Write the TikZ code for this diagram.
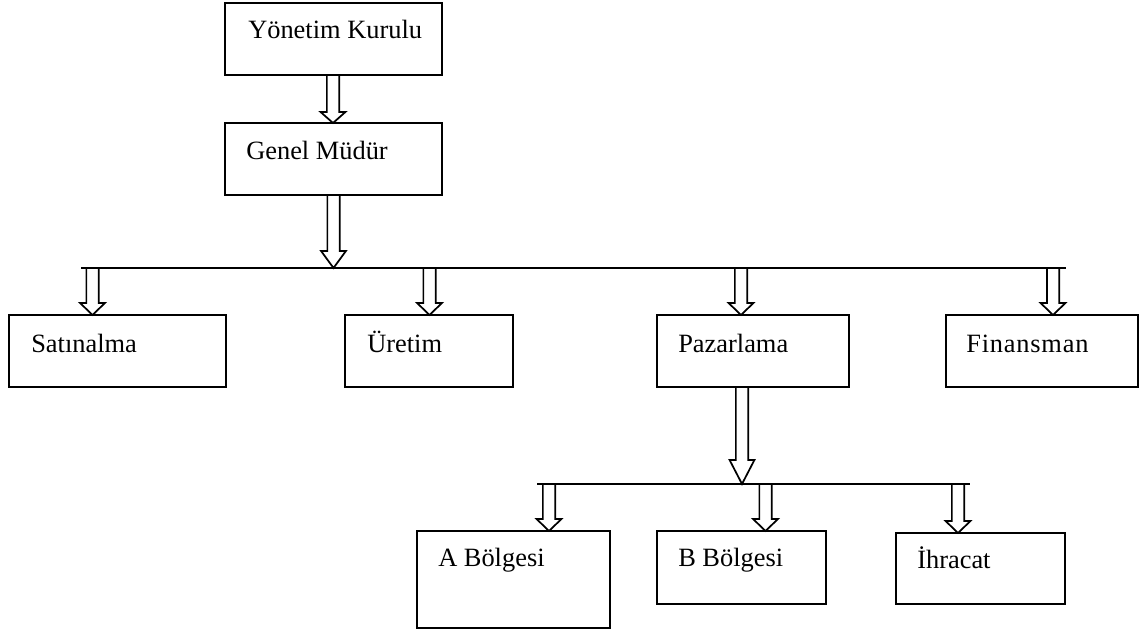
\documentclass[tikz,border=0pt]{standalone}
\usepackage{fontspec}
\setmainfont{Liberation Serif}
\usetikzlibrary{calc}

% one unit = one pixel of the chart; y grows downwards
\tikzset{
  x=0.75pt, y=-0.75pt,
  orgbox/.style={draw, line width=1.4pt, inner sep=0pt, outer sep=0pt, anchor=north west},
  blockarrow/.style={draw, fill=white, line width=1.3pt, line join=miter},
  boxtext/.style={anchor=base west, inner sep=0pt, font=\fontsize{19.8}{24}\selectfont},
  busline/.style={draw, line width=1.4pt},
}

% \orgbox{name}{x1}{y1}{x2}{y2}: empty framed box between two corners
\newcommand\orgbox[5]{%
  \node[orgbox, minimum width={(#4-#2)*0.75pt}, minimum height={(#5-#3)*0.75pt}]
    (#1) at (#2,#3) {};}

% \hollowarrow{x}{from}{to}{head length}: outlined block arrow pointing down
\newcommand\hollowarrow[4]{%
  \draw[blockarrow] let \p1=(#2), \p2=(#3) in
    ({#1*0.75pt-4.6pt},\y1) -- ({#1*0.75pt-4.6pt},{\y2+#4*0.75pt})
    -- ({#1*0.75pt-9.3pt},{\y2+#4*0.75pt}) -- ({#1*0.75pt},\y2)
    -- ({#1*0.75pt+9.3pt},{\y2+#4*0.75pt}) -- ({#1*0.75pt+4.6pt},{\y2+#4*0.75pt})
    -- ({#1*0.75pt+4.6pt},\y1) -- cycle;}

\begin{document}
\begin{tikzpicture}
\useasboundingbox (0,0) rectangle (1148,632);

% boxes
\orgbox{yk}{225}{3}{442}{75}
\orgbox{gm}{225}{123}{442}{195}
\orgbox{sat}{9}{315}{226}{387}
\orgbox{ure}{345}{315}{513}{387}
\orgbox{paz}{657}{315}{849}{387}
\orgbox{fin}{946}{315}{1138}{387}
\orgbox{abol}{417}{531}{610}{628}
\orgbox{bbol}{657}{531}{826}{604}
\orgbox{ihr}{896}{533}{1065}{604}

% box captions
\node[boxtext] (ykt)  at (248,38)  {Yönetim Kurulu};
\node[boxtext] (gmt)  at (246,159) {Genel Müdür};
\node[boxtext] (satt) at (31,352)  {Satınalma};
\node[boxtext] (uret) at (367,352) {Üretim};
\node[boxtext] (pazt) at (678,352) {Pazarlama};
\node[boxtext] (fint) at (966,352) {F\kern0.6pt i\kern0.6pt n\kern0.6pt a\kern0.6pt n\kern0.6pt s\kern0.6pt m\kern0.6pt a\kern0.6pt n};
\node[boxtext] (abolt) at (438,566) {A Bölgesi};
\node[boxtext] (bbolt) at (678,566) {B Bölgesi};
\node[boxtext] (ihrt)  at (917,568) {İhracat};

% distribution lines
\coordinate (busAl) at (81,268);
\coordinate (busAr) at (1066,268);
\coordinate (busBl) at (537,484);
\coordinate (busBr) at (970,484);
\draw[busline] (busAl) -- (busAr);
\draw[busline] (busBl) -- (busBr);

% block arrows
\hollowarrow{333}{yk.south}{gm.north}{11}
\hollowarrow{333.5}{gm.south}{busAl}{17}
\hollowarrow{92.5}{busAl}{sat.north}{12}
\hollowarrow{429.5}{busAl}{ure.north}{12}
\hollowarrow{741}{busAl}{paz.north}{12}
\hollowarrow{1053}{busAl}{fin.north}{12}
\hollowarrow{742}{paz.south}{busBl}{24}
\hollowarrow{549}{busBl}{abol.north}{12}
\hollowarrow{765.5}{busBl}{bbol.north}{12}
\hollowarrow{958}{busBl}{ihr.north}{12}
\end{tikzpicture}
\end{document}
